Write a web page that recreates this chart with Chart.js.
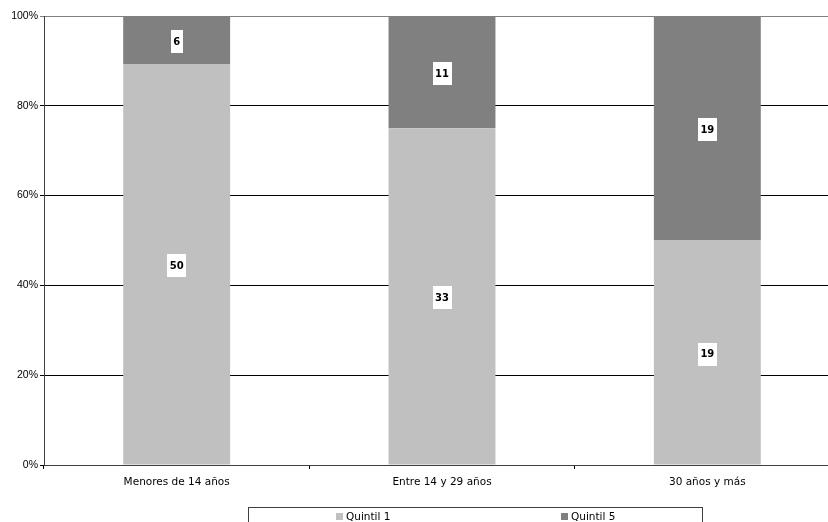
<!DOCTYPE html>
<html>
<head>
<meta charset="utf-8">
<script src="https://cdn.jsdelivr.net/npm/chart.js@4"></script>
<style>
    html, body { margin: 0; padding: 0; background: #fff; overflow: hidden; width: 828px; height: 522px; }
    #wrap { position: relative; width: 842px; height: 522px; }
    #legend {
        position: absolute; left: 248px; top: 507px; width: 453px; height: 30px;
        border: 1px solid #404040; font-family: 'DejaVu Sans', sans-serif; font-size: 10.5px; color: #000;
    }
    .item { position: absolute; top: 2px; }
    .sw { display: inline-block; width: 7px; height: 7px; margin-right: 3px; }
</style>
</head>
<body>
<div id="wrap">
    <canvas id="chart" width="842" height="522"></canvas>
    <div id="legend"></div>
</div>
<script>
const categories = ['Menores de 14 años', 'Entre 14 y 29 años', '30 años y más'];
const seriesNames = ['Quintil 1', 'Quintil 5'];
const quintil1 = [50, 33, 19];
const quintil5 = [6, 11, 19];
const yTicks = [0, 20, 40, 60, 80, 100];
const colors = ['#c0c0c0', '#808080'];

// share of each series in its category (100% stacked)
const totals = quintil1.map((v, i) => v + quintil5[i]);
const pct1 = quintil1.map((v, i) => v / totals[i] * 100);
const pct5 = quintil5.map((v, i) => v / totals[i] * 100);

// white boxes with the raw counts
const labelBoxes = {
    id: 'labelBoxes',
    afterDatasetsDraw(chart) {
        const ctx = chart.ctx;
        ctx.save();
        ctx.font = 'bold 10px "DejaVu Sans"';
        ctx.textAlign = 'center';
        ctx.textBaseline = 'middle';
        chart.data.datasets.forEach((ds, di) => {
            chart.getDatasetMeta(di).data.forEach((bar, i) => {
                const txt = String(ds.raw[i]);
                const cy = (bar.y + bar.base) / 2 + 1;
                const w = ctx.measureText(txt).width + 5;
                ctx.fillStyle = '#fff';
                ctx.fillRect(Math.round(bar.x - w / 2), Math.round(cy - 11), Math.round(w), 23);
                ctx.fillStyle = '#000';
                ctx.fillText(txt, bar.x, cy + 1);
            });
        });
        ctx.restore();
    }
};

new Chart(document.getElementById('chart'), {
    type: 'bar',
    data: {
        labels: categories,
        datasets: [
            { label: seriesNames[0], data: pct1, raw: quintil1, backgroundColor: colors[0] },
            { label: seriesNames[1], data: pct5, raw: quintil5, backgroundColor: colors[1] }
        ]
    },
    options: {
        responsive: false,
        animation: false,
        datasets: { bar: { barPercentage: 0.403, categoryPercentage: 1 } },
        layout: { padding: { top: 16, right: 2, bottom: 27, left: 0 } },
        plugins: { legend: { display: false }, tooltip: { enabled: false } },
        scales: {
            x: {
                stacked: true,
                afterFit: s => { s.height = 30; },
                grid: { offset: true, drawOnChartArea: false, drawTicks: true, tickLength: 4, color: '#000' },
                border: { color: '#404040', width: 1 },
                ticks: { color: '#000', font: { family: 'DejaVu Sans', size: 10.5 }, padding: 7 }
            },
            y: {
                stacked: true,
                min: 0,
                max: 100,
                afterFit: s => { s.width = 44; },
                afterBuildTicks: s => { s.ticks = yTicks.map(v => ({ value: v })); },
                grid: {
                    color: ctx => ctx.tick && ctx.tick.value === 100 ? '#808080' : '#000',
                    tickLength: 4
                },
                border: { color: '#404040', width: 1 },
                ticks: {
                    color: '#000',
                    font: { family: 'Liberation Sans', size: 10.5 },
                    padding: 2,
                    callback: v => v + '%'
                }
            }
        }
    },
    plugins: [labelBoxes]
});

// legend as html below the plot
const legend = document.getElementById('legend');
const itemX = [87, 312];
seriesNames.forEach((name, i) => {
    const item = document.createElement('div');
    item.className = 'item';
    item.style.left = itemX[i] + 'px';
    item.innerHTML = '<span class="sw" style="background:' + colors[i] + '"></span>' + name;
    legend.appendChild(item);
});
</script>
</body>
</html>
